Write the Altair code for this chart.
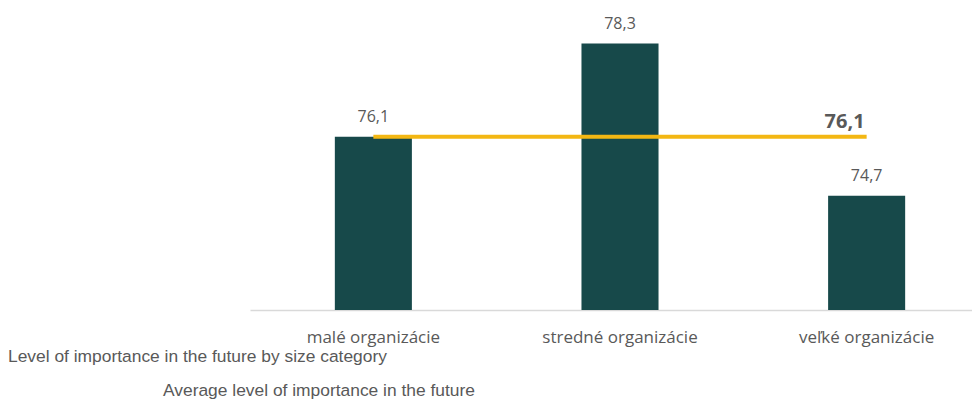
import altair as alt
import pandas as pd

categories = ["malé organizácie", "stredné organizácie", "veľké organizácie"]
values = [76.1, 78.3, 74.7]
average = 76.1
legend_labels = [
    "Level of importance in the future by size category",
    "Average level of importance in the future",
]

bar_color = "#17494a"
line_color = "#f3b713"
text_gray = "#595959"

df = pd.DataFrame({"cat": categories, "value": values})
avg_df = pd.DataFrame({"cat": [categories[0], categories[-1]], "avg": [average, average]})
avg_label_df = pd.DataFrame({"cat": [categories[-1]], "avg": [average]})

x_scale = alt.Scale(paddingInner=0.6876, paddingOuter=0.344, range=[0, 740])
x_enc = alt.X(
    "cat:N",
    sort=categories,
    scale=x_scale,
    axis=alt.Axis(
        title=None,
        labelAngle=0,
        ticks=False,
        domainColor="#d9d9d9",
        domainWidth=1.5,
        labelFont="Open Sans",
        labelFontSize=17,
        labelColor=text_gray,
        labelPadding=19,
    ),
)
y_scale = alt.Scale(domain=[72, 79], zero=False, nice=False)

bars = alt.Chart(df).mark_bar(color=bar_color).encode(
    x=x_enc,
    y=alt.Y("value:Q", scale=y_scale, axis=None),
    y2=alt.datum(72),
)

bar_labels = alt.Chart(df).mark_text(
    font="Open Sans", fontSize=16, color=text_gray, dy=-15, baseline="alphabetic"
).encode(
    x=alt.X("cat:N", sort=categories),
    y=alt.Y("value:Q", scale=y_scale),
    text=alt.Text("label:N"),
).transform_calculate(label="replace(format(datum.value, '.1f'), '.', ',')")

avg_line = alt.Chart(avg_df).mark_line(color=line_color, strokeWidth=4).encode(
    x=alt.X("cat:N", sort=categories),
    y=alt.Y("avg:Q", scale=y_scale),
)

avg_text = alt.Chart(avg_label_df).mark_text(
    font="Open Sans", fontSize=20, fontWeight="bold", color=text_gray,
    align="right", dx=-2, dy=-9, baseline="alphabetic"
).encode(
    x=alt.X("cat:N", sort=categories),
    y=alt.Y("avg:Q", scale=y_scale),
    text=alt.Text("label:N"),
).transform_calculate(label="replace(format(datum.avg, '.1f'), '.', ',')")

leg1 = alt.Chart(pd.DataFrame({"t": [legend_labels[0]]})).mark_text(
    font="Liberation Sans", fontSize=17.4, color=text_gray, align="left", baseline="alphabetic"
).encode(text="t:N", x=alt.value(-242), y=alt.value(348))

leg2 = alt.Chart(pd.DataFrame({"t": [legend_labels[1]]})).mark_text(
    font="Liberation Sans", fontSize=17.4, color=text_gray, align="left", baseline="alphabetic"
).encode(text="t:N", x=alt.value(-87), y=alt.value(382))

chart = alt.layer(bars, avg_line, bar_labels, avg_text, leg1, leg2).properties(
    width=722,
    height=296,
    autosize=alt.AutoSizeParams(type="none"),
    padding={"left": 242, "top": 6, "right": 0, "bottom": 90},
).configure_view(stroke=None)

chart.save("out.html", embed_options={"renderer": "svg", "actions": False})
